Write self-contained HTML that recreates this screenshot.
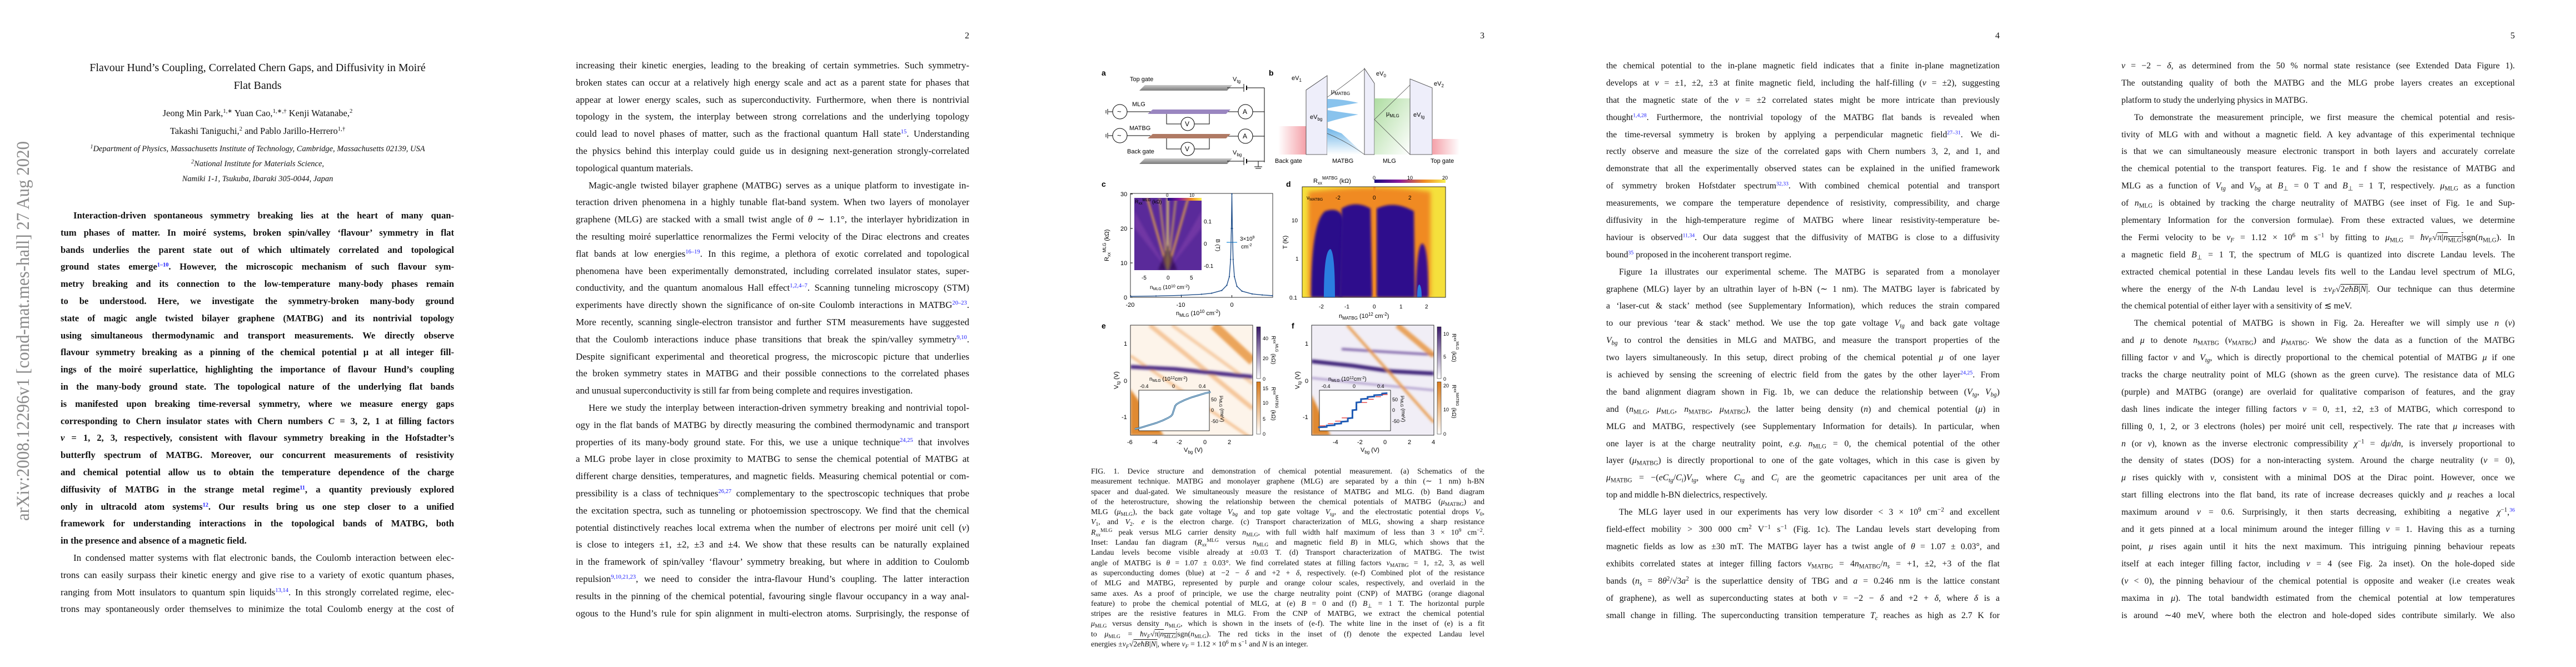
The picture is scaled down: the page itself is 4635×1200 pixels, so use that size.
<!DOCTYPE html>
<html><head><meta charset="utf-8">
<style>
html,body{margin:0;padding:0;background:#fff}
body{width:4635px;height:1200px;position:relative;overflow:hidden;font-family:"Liberation Serif",serif;color:#111}
.page{position:absolute;top:0;width:927px;height:1200px;background:#fff}
.col{position:absolute;left:109px;width:708px}
.l{height:30.8px;line-height:30.8px;overflow:hidden;text-align:justify;text-align-last:justify}
.e{text-align-last:left}
.i{text-indent:23px}
.p2 .col{font-size:17px}
.p45 .col{font-size:15.8px}
.p45 .l{height:30.9px;line-height:30.9px}
.abs{font-weight:bold;font-size:16.6px}
.nrm{font-size:17px}
sup{font-size:0.62em;vertical-align:0.55em;line-height:0;color:#1a1aff}
sub{font-size:0.7em;vertical-align:-0.3em;line-height:0}
.pn{position:absolute;right:110px;top:56px;font-size:16px}
.ctr{position:absolute;left:0;width:927px;text-align:center}
.cap{position:absolute;left:109px;top:839px;width:708px;font-size:13.8px}
.cap .l{height:18.3px;line-height:18.3px}
svg text{font-family:"Liberation Sans",sans-serif}
</style></head><body>

<!-- PAGE 1 -->
<div class="page" style="left:0">
<svg width="80" height="1200" style="position:absolute;left:0;top:0">
<text transform="translate(52,937) rotate(-90)" font-family="Liberation Serif" font-size="33" fill="#8a8a8a" textLength="683" lengthAdjust="spacingAndGlyphs" style="font-family:'Liberation Serif',serif">arXiv:2008.12296v1  [cond-mat.mes-hall]  27 Aug 2020</text>
</svg>
<div class="ctr" style="top:106px;font-size:20px;line-height:32px">Flavour Hund’s Coupling, Correlated Chern Gaps, and Diffusivity in Moiré<br>Flat Bands</div>
<div class="ctr" style="top:188px;font-size:16.5px;line-height:32px">Jeong Min Park,<span style="font-size:.65em;vertical-align:.55em;line-height:0">1,∗</span> Yuan Cao,<span style="font-size:.65em;vertical-align:.55em;line-height:0">1,∗,†</span> Kenji Watanabe,<span style="font-size:.65em;vertical-align:.55em;line-height:0">2</span><br>Takashi Taniguchi,<span style="font-size:.65em;vertical-align:.55em;line-height:0">2</span> and Pablo Jarillo-Herrero<span style="font-size:.65em;vertical-align:.55em;line-height:0">1,†</span></div>
<div class="ctr" style="top:255px;font-size:14.5px;line-height:27px;font-style:italic"><span style="font-size:.7em;vertical-align:.5em;line-height:0">1</span>Department of Physics, Massachusetts Institute of Technology, Cambridge, Massachusetts 02139, USA<br><span style="font-size:.7em;vertical-align:.5em;line-height:0">2</span>National Institute for Materials Science,<br>Namiki 1-1, Tsukuba, Ibaraki 305-0044, Japan</div>
<div class="col" style="top:373px">
<div class="abs">
<div class="l i">Interaction-driven spontaneous symmetry breaking lies at the heart of many quan-</div>
<div class="l">tum phases of matter. In moiré systems, broken spin/valley ‘flavour’ symmetry in flat</div>
<div class="l">bands underlies the parent state out of which ultimately correlated and topological</div>
<div class="l">ground states emerge<sup>1–10</sup>. However, the microscopic mechanism of such flavour sym-</div>
<div class="l">metry breaking and its connection to the low-temperature many-body phases remain</div>
<div class="l">to be understood. Here, we investigate the symmetry-broken many-body ground</div>
<div class="l">state of magic angle twisted bilayer graphene (MATBG) and its nontrivial topology</div>
<div class="l">using simultaneous thermodynamic and transport measurements. We directly observe</div>
<div class="l">flavour symmetry breaking as a pinning of the chemical potential μ at all integer fill-</div>
<div class="l">ings of the moiré superlattice, highlighting the importance of flavour Hund’s coupling</div>
<div class="l">in the many-body ground state. The topological nature of the underlying flat bands</div>
<div class="l">is manifested upon breaking time-reversal symmetry, where we measure energy gaps</div>
<div class="l">corresponding to Chern insulator states with Chern numbers <i>C</i> = 3, 2, 1 at filling factors</div>
<div class="l"><i>ν</i> = 1, 2, 3, respectively, consistent with flavour symmetry breaking in the Hofstadter’s</div>
<div class="l">butterfly spectrum of MATBG. Moreover, our concurrent measurements of resistivity</div>
<div class="l">and chemical potential allow us to obtain the temperature dependence of the charge</div>
<div class="l">diffusivity of MATBG in the strange metal regime<sup>11</sup>, a quantity previously explored</div>
<div class="l">only in ultracold atom systems<sup>12</sup>. Our results bring us one step closer to a unified</div>
<div class="l">framework for understanding interactions in the topological bands of MATBG, both</div>
<div class="l e">in the presence and absence of a magnetic field.</div>
</div>
<div class="nrm">
<div class="l i">In condensed matter systems with flat electronic bands, the Coulomb interaction between elec-</div>
<div class="l">trons can easily surpass their kinetic energy and give rise to a variety of exotic quantum phases,</div>
<div class="l">ranging from Mott insulators to quantum spin liquids<sup>13,14</sup>. In this strongly correlated regime, elec-</div>
<div class="l">trons may spontaneously order themselves to minimize the total Coulomb energy at the cost of</div>
</div>
</div>
</div>

<!-- PAGE 2 -->
<div class="page p2" style="left:927px">
<div class="pn">2</div>
<div class="col" style="top:103px">
<div class="l">increasing their kinetic energies, leading to the breaking of certain symmetries. Such symmetry-</div>
<div class="l">broken states can occur at a relatively high energy scale and act as a parent state for phases that</div>
<div class="l">appear at lower energy scales, such as superconductivity. Furthermore, when there is nontrivial</div>
<div class="l">topology in the system, the interplay between strong correlations and the underlying topology</div>
<div class="l">could lead to novel phases of matter, such as the fractional quantum Hall state<sup>15</sup>. Understanding</div>
<div class="l">the physics behind this interplay could guide us in designing next-generation strongly-correlated</div>
<div class="l e">topological quantum materials.</div>
<div class="l i">Magic-angle twisted bilayer graphene (MATBG) serves as a unique platform to investigate in-</div>
<div class="l">teraction driven phenomena in a highly tunable flat-band system. When two layers of monolayer</div>
<div class="l">graphene (MLG) are stacked with a small twist angle of <i>θ</i> ∼ 1.1°, the interlayer hybridization in</div>
<div class="l">the resulting moiré superlattice renormalizes the Fermi velocity of the Dirac electrons and creates</div>
<div class="l">flat bands at low energies<sup>16–19</sup>. In this regime, a plethora of exotic correlated and topological</div>
<div class="l">phenomena have been experimentally demonstrated, including correlated insulator states, super-</div>
<div class="l">conductivity, and the quantum anomalous Hall effect<sup>1,2,4–7</sup>. Scanning tunneling microscopy (STM)</div>
<div class="l">experiments have directly shown the significance of on-site Coulomb interactions in MATBG<sup>20–23</sup>.</div>
<div class="l">More recently, scanning single-electron transistor and further STM measurements have suggested</div>
<div class="l">that the Coulomb interactions induce phase transitions that break the spin/valley symmetry<sup>9,10</sup>.</div>
<div class="l">Despite significant experimental and theoretical progress, the microscopic picture that underlies</div>
<div class="l">the broken symmetry states in MATBG and their possible connections to the correlated phases</div>
<div class="l e">and unusual superconductivity is still far from being complete and requires investigation.</div>
<div class="l i">Here we study the interplay between interaction-driven symmetry breaking and nontrivial topol-</div>
<div class="l">ogy in the flat bands of MATBG by directly measuring the combined thermodynamic and transport</div>
<div class="l">properties of its many-body ground state. For this, we use a unique technique<sup>24,25</sup> that involves</div>
<div class="l">a MLG probe layer in close proximity to MATBG to sense the chemical potential of MATBG at</div>
<div class="l">different charge densities, temperatures, and magnetic fields. Measuring chemical potential or com-</div>
<div class="l">pressibility is a class of techniques<sup>26,27</sup> complementary to the spectroscopic techniques that probe</div>
<div class="l">the excitation spectra, such as tunneling or photoemission spectroscopy. We find that the chemical</div>
<div class="l">potential distinctively reaches local extrema when the number of electrons per moiré unit cell (<i>ν</i>)</div>
<div class="l">is close to integers ±1, ±2, ±3 and ±4. We show that these results can be naturally explained</div>
<div class="l">in the framework of spin/valley ‘flavour’ symmetry breaking, but where in addition to Coulomb</div>
<div class="l">repulsion<sup>9,10,21,23</sup>, we need to consider the intra-flavour Hund’s coupling. The latter interaction</div>
<div class="l">results in the pinning of the chemical potential, favouring single flavour occupancy in a way anal-</div>
<div class="l">ogous to the Hund’s rule for spin alignment in multi-electron atoms. Surprisingly, the response of</div>
</div>
</div>

<!-- PAGE 3 -->
<div class="page" style="left:1854px">
<div class="pn">3</div>
<svg id="fig" width="927" height="830" style="position:absolute;left:0;top:0">
<defs>
<linearGradient id="gplate" x1="0" y1="0" x2="0" y2="1"><stop offset="0" stop-color="#c8c8c8"/><stop offset="1" stop-color="#7a7a7a"/></linearGradient>
<linearGradient id="gpink" x1="0" y1="0" x2="1" y2="0"><stop offset="0" stop-color="#fff"/><stop offset="1" stop-color="#f4a0a8"/></linearGradient>
<linearGradient id="gpink2" x1="0" y1="0" x2="1" y2="0"><stop offset="0" stop-color="#f4a0a8"/><stop offset="1" stop-color="#fff"/></linearGradient>
<linearGradient id="gblue" x1="0" y1="0" x2="0" y2="1"><stop offset="0" stop-color="#6cb4e8"/><stop offset="1" stop-color="#fff"/></linearGradient>
<linearGradient id="ggreen" x1="0" y1="0" x2="1" y2="1"><stop offset="0" stop-color="#9ad48a"/><stop offset="1" stop-color="#fff"/></linearGradient>
<linearGradient id="gcbar1" x1="0" y1="0" x2="1" y2="0"><stop offset="0" stop-color="#1a0a80"/><stop offset="0.35" stop-color="#8a1a9a"/><stop offset="0.7" stop-color="#f08a24"/><stop offset="1" stop-color="#f8f050"/></linearGradient>
<linearGradient id="gcpur" x1="0" y1="0" x2="0" y2="1"><stop offset="0" stop-color="#3a1a6a"/><stop offset="1" stop-color="#fff"/></linearGradient>
<linearGradient id="gcora" x1="0" y1="0" x2="0" y2="1"><stop offset="0" stop-color="#d87a1a"/><stop offset="1" stop-color="#fff"/></linearGradient>
<filter id="bl2"><feGaussianBlur stdDeviation="2"/></filter>
<filter id="bl4"><feGaussianBlur stdDeviation="4"/></filter>
<clipPath id="clipD"><rect x="489" y="336" width="258" height="199"/></clipPath>
<clipPath id="clipE"><rect x="180" y="585" width="220" height="198"/></clipPath>
<clipPath id="clipF"><rect x="506" y="585" width="220" height="198"/></clipPath>
<clipPath id="clipCi"><rect x="187" y="356" width="121" height="130"/></clipPath>
</defs>
<!-- panel a -->
<g font-size="11">
<text x="128" y="136" font-weight="bold" font-size="14">a</text>
<text x="179" y="146">Top gate</text>
<polygon points="196,163 206,153 363,153 354,163" fill="url(#gplate)"/>
<text x="364" y="146">V<tspan font-size="8" dy="3">tg</tspan></text>
<line x1="354" y1="158" x2="384" y2="158" stroke="#000"/><line x1="384" y1="151" x2="384" y2="165" stroke="#000"/><line x1="389" y1="154" x2="389" y2="162" stroke="#000" stroke-width="2"/><line x1="389" y1="158" x2="421" y2="158" stroke="#000"/>
<line x1="421" y1="158" x2="421" y2="292" stroke="#000"/>
<text x="183" y="191">MLG</text>
<polygon points="211,205 220,197 360,197 352,205" fill="#9a86c0"/>
<circle cx="161" cy="201" r="13" fill="#fff" stroke="#000"/><text x="156" y="205" font-size="13">~</text>
<line x1="174" y1="201" x2="216" y2="201" stroke="#000"/><line x1="140" y1="201" x2="148" y2="201" stroke="#000"/><line x1="139" y1="196" x2="139" y2="206" stroke="#000"/><line x1="136" y1="198" x2="136" y2="204" stroke="#000"/>
<polyline points="245,205 245,223 271,223" fill="none" stroke="#000"/><polyline points="322,205 322,223 295,223" fill="none" stroke="#000"/>
<circle cx="283" cy="223" r="12" fill="#fff" stroke="#000"/><text x="278" y="227" font-size="12">V</text>
<line x1="356" y1="201" x2="374" y2="201" stroke="#000"/>
<circle cx="387" cy="201" r="13" fill="#fff" stroke="#000"/><text x="382" y="205" font-size="12">A</text>
<line x1="400" y1="201" x2="421" y2="201" stroke="#000"/>
<text x="178" y="234">MATBG</text>
<polygon points="211,249 220,241 360,241 352,249" fill="#b07a64"/>
<circle cx="161" cy="244" r="13" fill="#fff" stroke="#000"/><text x="156" y="248" font-size="13">~</text>
<line x1="174" y1="244" x2="216" y2="244" stroke="#000"/><line x1="140" y1="244" x2="148" y2="244" stroke="#000"/><line x1="139" y1="239" x2="139" y2="249" stroke="#000"/><line x1="136" y1="241" x2="136" y2="247" stroke="#000"/>
<polyline points="245,249 245,268 271,268" fill="none" stroke="#000"/><polyline points="322,249 322,268 295,268" fill="none" stroke="#000"/>
<circle cx="283" cy="268" r="12" fill="#fff" stroke="#000"/><text x="278" y="272" font-size="12">V</text>
<line x1="356" y1="245" x2="374" y2="245" stroke="#000"/>
<circle cx="387" cy="245" r="13" fill="#fff" stroke="#000"/><text x="382" y="249" font-size="12">A</text>
<line x1="400" y1="245" x2="421" y2="245" stroke="#000"/>
<text x="174" y="276">Back gate</text>
<polygon points="196,295 206,285 363,285 354,295" fill="url(#gplate)"/>
<text x="364" y="278">V<tspan font-size="8" dy="3">bg</tspan></text>
<line x1="354" y1="290" x2="384" y2="290" stroke="#000"/><line x1="384" y1="283" x2="384" y2="297" stroke="#000"/><line x1="389" y1="286" x2="389" y2="294" stroke="#000" stroke-width="2"/><line x1="389" y1="290" x2="421" y2="290" stroke="#000"/>
<line x1="410" y1="290" x2="410" y2="300" stroke="#000"/><line x1="403" y1="300" x2="417" y2="300" stroke="#000"/><line x1="405" y1="303" x2="415" y2="303" stroke="#000"/>
</g>
<!-- panel b -->
<g font-size="11">
<text x="429" y="136" font-weight="bold" font-size="14">b</text>
<rect x="446" y="227" width="50" height="51" fill="url(#gpink)"/>
<polygon points="496,162 534,136 534,278 496,278" fill="#eeeefa" stroke="#333" stroke-width="0.8"/>
<polygon points="534,278 534,230 560,240 601,278" fill="url(#gblue)"/>
<path d="M534,175 Q570,150 601,124" fill="none" stroke="#444" stroke-width="0.7"/>
<path d="M534,240 Q570,255 601,278" fill="none" stroke="#444" stroke-width="0.7"/>
<path d="M534,178 Q560,178 590,185 Q560,190 534,195 Z" fill="#6cb4e8" opacity="0.8"/>
<path d="M534,198 Q560,202 590,206 Q560,212 534,220 Z" fill="#6cb4e8" opacity="0.8"/>
<polygon points="601,123 619,150 619,278 601,278" fill="#eeeefa" stroke="#333" stroke-width="0.8"/>
<polygon points="619,177 683,177 683,278 619,278" fill="url(#ggreen)" opacity="0.8"/>
<polyline points="683,153 619,215 683,278" fill="none" stroke="#444" stroke-width="0.7"/>
<polygon points="683,142 723,158 723,278 683,278" fill="#eeeefa" stroke="#333" stroke-width="0.8"/>
<rect x="723" y="250" width="49" height="28" fill="url(#gpink2)"/>
<text x="470" y="144">eV<tspan font-size="8" dy="3">1</tspan></text>
<text x="622" y="136">eV<tspan font-size="8" dy="3">0</tspan></text>
<text x="726" y="154">eV<tspan font-size="8" dy="3">2</tspan></text>
<text x="541" y="168">μ<tspan font-size="8" dy="3">MATBG</tspan></text>
<text x="503" y="214">eV<tspan font-size="8" dy="3">bg</tspan></text>
<text x="640" y="208">μ<tspan font-size="8" dy="3">MLG</tspan></text>
<text x="689" y="210">eV<tspan font-size="8" dy="3">tg</tspan></text>
<text x="440" y="293">Back gate</text><text x="543" y="293">MATBG</text><text x="634" y="293">MLG</text><text x="720" y="293">Top gate</text>
</g>
<!-- panel c -->
<g id="panelC" font-size="11">
<text x="128" y="336" font-weight="bold" font-size="14">c</text>
<rect x="180" y="348" width="256" height="187" fill="none" stroke="#000" stroke-width="0.8"/>
<text transform="translate(141,470) rotate(-90)">R<tspan font-size="8" dy="3">xx</tspan><tspan font-size="8" dy="-8">MLG</tspan><tspan dy="5"> (kΩ)</tspan></text>
<text x="262" y="567">n<tspan font-size="8" dy="3">MLG</tspan><tspan dy="-3"> (10</tspan><tspan font-size="8" dy="-4">10</tspan><tspan dy="4"> cm</tspan><tspan font-size="8" dy="-4">-2</tspan><tspan dy="4">)</tspan></text>
<rect x="187" y="356" width="121" height="130" fill="#5a2a9a"/>
<g clip-path="url(#clipCi)" filter="url(#bl2)">
<polygon points="247,486 187,380 187,410 247,486 308,410 308,380" fill="#7a3aa8" opacity="0.7"/>
<line x1="247" y1="486" x2="210" y2="356" stroke="#f0b040" stroke-width="3"/>
<line x1="247" y1="486" x2="284" y2="356" stroke="#f0b040" stroke-width="3"/>
<line x1="247" y1="486" x2="232" y2="356" stroke="#f8d040" stroke-width="2"/>
<line x1="247" y1="486" x2="262" y2="356" stroke="#f8d040" stroke-width="2"/>
<line x1="247" y1="356" x2="247" y2="486" stroke="#fff060" stroke-width="3"/>
<polygon points="247,440 230,486 264,486" fill="#2a0a40" opacity="0.6"/>
</g>
<rect x="247" y="356" width="61" height="5" fill="url(#gcbar1)"/>
<text x="188" y="366" font-size="9">R<tspan font-size="7" dy="2">xx</tspan><tspan font-size="7" dy="-6">MLG</tspan><tspan dy="4"> (kΩ)</tspan></text>
<text x="244" y="354" font-size="8">0</text><text x="286" y="354" font-size="8">10</text>
<text x="312" y="402" font-size="10">0.1</text><text x="312" y="442" font-size="10">0</text><text x="312" y="482" font-size="10">-0.1</text>
<text transform="translate(334,430) rotate(90)" font-size="10">B (T)</text>
<text x="200" y="503" font-size="10">-5</text><text x="245" y="503" font-size="10">0</text><text x="287" y="503" font-size="10">5</text>
<text x="215" y="520" font-size="10">n<tspan font-size="7" dy="2">MLG</tspan><tspan dy="-2"> (10</tspan><tspan font-size="7" dy="-3">10</tspan><tspan dy="3"> cm</tspan><tspan font-size="7" dy="-3">-2</tspan><tspan dy="3">)</tspan></text>
<line x1="353" y1="436" x2="372" y2="436" stroke="#1e8ad8" stroke-width="1.2"/>
<text x="377" y="433" font-size="10">3×10<tspan font-size="7" dy="-4">9</tspan></text>
<text x="379" y="447" font-size="10">cm<tspan font-size="7" dy="-4">-2</tspan></text>
</g>
<!-- panel d -->
<g font-size="11">
<text x="460" y="336" font-weight="bold" font-size="14">d</text>
<g clip-path="url(#clipD)">
<rect x="489" y="336" width="258" height="199" fill="#f5e03c"/>
<path d="M500,535 L500,345 Q620,330 720,345 L720,535 Z" fill="#f08a24" filter="url(#bl4)"/>
<path d="M505,535 Q505,400 530,380 Q560,370 565,400 L560,535 Z" fill="#2b0b8a" filter="url(#bl2)"/>
<path d="M556,535 L560,375 Q585,360 612,375 L615,535 Z" fill="#2e0c8c" filter="url(#bl2)"/>
<path d="M623,535 L623,375 Q655,360 690,380 L692,535 Z" fill="#2e0c8c" filter="url(#bl2)"/>
<path d="M693,535 Q695,440 705,438 Q716,440 716,535 Z" fill="#3a0e90" filter="url(#bl2)"/>
<path d="M528,535 Q528,450 540,448 Q548,455 548,535 Z" fill="#2a7ee0"/>
<path d="M696,535 Q696,512 700,512 Q704,515 704,535 Z" fill="#2a7ee0"/>
<rect x="617" y="336" width="4" height="199" fill="#f08a24"/>
</g>
<rect x="489" y="336" width="258" height="199" fill="none" stroke="#000" stroke-width="0.8"/>
<rect x="619" y="323" width="128" height="6" fill="url(#gcbar1)"/>
<text x="509" y="329">R<tspan font-size="8" dy="3">xx</tspan><tspan font-size="8" dy="-9">MATBG</tspan><tspan dy="6"> (kΩ)</tspan></text>
<text x="616" y="323" font-size="9">0</text><text x="678" y="323" font-size="9">10</text><text x="741" y="323" font-size="9">20</text>
<text x="497" y="359" font-size="10">ν<tspan font-size="7" dy="2">MATBG</tspan></text>
<text x="549" y="359" font-size="10">-2</text><text x="616" y="359" font-size="10">0</text><text x="680" y="359" font-size="10">2</text>
<text x="470" y="400" font-size="10">10</text><text x="477" y="469" font-size="10">1</text><text x="466" y="539" font-size="10">0.1</text>
<text transform="translate(462,448) rotate(-90)">T (K)</text>
<text x="519" y="555" font-size="10">-2</text><text x="565" y="555" font-size="10">-1</text><text x="616" y="555" font-size="10">0</text><text x="664" y="555" font-size="10">1</text><text x="710" y="555" font-size="10">2</text>
<text x="555" y="572">n<tspan font-size="8" dy="3">MATBG</tspan><tspan dy="-3"> (10</tspan><tspan font-size="8" dy="-4">12</tspan><tspan dy="4"> cm</tspan><tspan font-size="8" dy="-4">-2</tspan><tspan dy="4">)</tspan></text>
</g>
<!-- panel e -->
<g id="panelE" font-size="11">
<text x="128" y="591" font-weight="bold" font-size="14">e</text>
<g clip-path="url(#clipE)">
<rect x="180" y="585" width="220" height="198" fill="#fdf4ea"/>
<g filter="url(#bl2)">
<line x1="215" y1="585" x2="400" y2="735" stroke="#f2b47a" stroke-width="8" opacity="0.7"/>
<line x1="255" y1="585" x2="400" y2="690" stroke="#f2b47a" stroke-width="6" opacity="0.6"/>
<line x1="330" y1="585" x2="400" y2="650" stroke="#e8913a" stroke-width="16" opacity="0.8"/>
<line x1="180" y1="640" x2="400" y2="790" stroke="#f0a660" stroke-width="5" opacity="0.6"/>
<polygon points="180,700 180,783 240,783" fill="#e08a30"/>
<polyline points="180,660 260,664 320,670 400,678" fill="none" stroke="#4b2a84" stroke-width="7"/>
</g>
</g>
<rect x="180" y="585" width="220" height="198" fill="none" stroke="#000" stroke-width="0.8"/>
<rect x="195" y="702" width="127" height="73" fill="#fff" stroke="#000" stroke-width="0.8"/>
<rect x="407" y="588" width="7" height="93" fill="url(#gcpur)" stroke="#000" stroke-width="0.5"/>
<rect x="407" y="687" width="7" height="94" fill="url(#gcora)" stroke="#000" stroke-width="0.5"/>
<text x="418" y="612" font-size="9">40</text><text x="418" y="648" font-size="9">20</text><text x="418" y="685" font-size="9">0</text>
<text x="418" y="702" font-size="9">15</text><text x="418" y="728" font-size="9">10</text><text x="418" y="757" font-size="9">5</text><text x="418" y="784" font-size="9">0</text>
<text transform="translate(434,604) rotate(90)" font-size="10">R<tspan font-size="7" dy="-3">xx</tspan><tspan font-size="7" dy="-4">MLG</tspan><tspan dy="7"> (kΩ)</tspan></text>
<text transform="translate(434,696) rotate(90)" font-size="10">R<tspan font-size="7" dy="-3">xx</tspan><tspan font-size="7" dy="-4">MATBG</tspan><tspan dy="7"> (kΩ)</tspan></text>
<text x="168" y="622">1</text><text x="168" y="689">0</text><text x="164" y="754">-1</text>
<text transform="translate(158,700) rotate(-90)">V<tspan font-size="8" dy="3">tg</tspan><tspan dy="-3"> (V)</tspan></text>
<text x="174" y="799">-6</text><text x="219" y="799">-4</text><text x="263" y="799">-2</text><text x="311" y="799">0</text><text x="355" y="799">2</text>
<text x="276" y="813">V<tspan font-size="8" dy="3">bg</tspan><tspan dy="-3"> (V)</tspan></text>
<text x="214" y="685" font-size="10">n<tspan font-size="7" dy="2">MLG</tspan><tspan dy="-2"> (10</tspan><tspan font-size="7" dy="-3">12</tspan><tspan dy="3">cm</tspan><tspan font-size="7" dy="-3">-2</tspan><tspan dy="3">)</tspan></text>
<text x="197" y="698" font-size="9">-0.4</text><text x="255" y="698" font-size="9">0</text><text x="303" y="698" font-size="9">0.4</text>
<text x="325" y="722" font-size="9">50</text><text x="325" y="741" font-size="9">0</text><text x="325" y="761" font-size="9">-50</text>
<text transform="translate(342,712) rotate(90)" font-size="9">μ<tspan font-size="7" dy="2">MLG</tspan><tspan dy="-2"> (meV)</tspan></text>
</g>
<!-- panel f -->
<g id="panelF" font-size="11">
<text x="470" y="591" font-weight="bold" font-size="14">f</text>
<g clip-path="url(#clipF)">
<rect x="506" y="585" width="220" height="198" fill="#f1eef6"/>
<g filter="url(#bl2)">
<polyline points="506,650 580,658 650,668 726,672" fill="none" stroke="#3e2278" stroke-width="7"/>
<polyline points="560,628 640,633 726,638" fill="none" stroke="#5a3a90" stroke-width="4" opacity="0.8"/>
<polyline points="506,680 600,690 726,702" fill="none" stroke="#6a4aa0" stroke-width="3" opacity="0.6"/>
<line x1="570" y1="585" x2="726" y2="760" stroke="#e8913a" stroke-width="5" opacity="0.8"/>
<line x1="660" y1="585" x2="726" y2="640" stroke="#e8913a" stroke-width="10" opacity="0.8"/>
<polygon points="506,710 506,783 540,783" fill="#e08a30"/>
</g>
</g>
<rect x="506" y="585" width="220" height="198" fill="none" stroke="#000" stroke-width="0.8"/>
<rect x="520" y="702" width="128" height="73" fill="#fff" stroke="#000" stroke-width="0.8"/>
<rect x="732" y="588" width="7" height="93" fill="url(#gcpur)" stroke="#000" stroke-width="0.5"/>
<rect x="732" y="687" width="7" height="94" fill="url(#gcora)" stroke="#000" stroke-width="0.5"/>
<text x="743" y="604" font-size="9">10</text><text x="743" y="645" font-size="9">5</text><text x="743" y="685" font-size="9">0</text>
<text x="743" y="697" font-size="9">20</text><text x="743" y="740" font-size="9">10</text><text x="743" y="784" font-size="9">0</text>
<text transform="translate(759,600) rotate(90)" font-size="10">R<tspan font-size="7" dy="-3">xx</tspan><tspan font-size="7" dy="-4">MLG</tspan><tspan dy="7"> (kΩ)</tspan></text>
<text transform="translate(759,692) rotate(90)" font-size="10">R<tspan font-size="7" dy="-3">xx</tspan><tspan font-size="7" dy="-4">MATBG</tspan><tspan dy="7"> (kΩ)</tspan></text>
<text x="494" y="622">1</text><text x="494" y="689">0</text><text x="490" y="754">-1</text>
<text transform="translate(484,700) rotate(-90)">V<tspan font-size="8" dy="3">tg</tspan><tspan dy="-3"> (V)</tspan></text>
<text x="544" y="799">-4</text><text x="588" y="799">-2</text><text x="635" y="799">0</text><text x="679" y="799">2</text><text x="722" y="799">4</text>
<text x="594" y="813">V<tspan font-size="8" dy="3">bg</tspan><tspan dy="-3"> (V)</tspan></text>
<text x="536" y="685" font-size="10">n<tspan font-size="7" dy="2">MLG</tspan><tspan dy="-2"> (10</tspan><tspan font-size="7" dy="-3">12</tspan><tspan dy="3">cm</tspan><tspan font-size="7" dy="-3">-2</tspan><tspan dy="3">)</tspan></text>
<text x="524" y="698" font-size="9">-0.4</text><text x="580" y="698" font-size="9">0</text><text x="624" y="698" font-size="9">0.4</text>
<text x="651" y="722" font-size="9">50</text><text x="651" y="741" font-size="9">0</text><text x="651" y="761" font-size="9">-50</text>
<text transform="translate(668,712) rotate(90)" font-size="9">μ<tspan font-size="7" dy="2">MLG</tspan><tspan dy="-2"> (meV)</tspan></text>
</g>
</svg>
<div class="cap">
<div class="l">FIG. 1. Device structure and demonstration of chemical potential measurement. (a) Schematics of the</div>
<div class="l">measurement technique. MATBG and monolayer graphene (MLG) are separated by a thin (∼ 1 nm) h-BN</div>
<div class="l">spacer and dual-gated. We simultaneously measure the resistance of MATBG and MLG. (b) Band diagram</div>
<div class="l">of the heterostructure, showing the relationship between the chemical potentials of MATBG (<i>μ</i><sub>MATBG</sub>) and</div>
<div class="l">MLG (<i>μ</i><sub>MLG</sub>), the back gate voltage <i>V<sub>bg</sub></i> and top gate voltage <i>V<sub>tg</sub></i>, and the electrostatic potential drops <i>V</i><sub>0</sub>,</div>
<div class="l"><i>V</i><sub>1</sub>, and <i>V</i><sub>2</sub>. <i>e</i> is the electron charge. (c) Transport characterization of MLG, showing a sharp resistance</div>
<div class="l"><i>R<sub>xx</sub></i><span style="font-size:.7em;vertical-align:.5em;line-height:0">MLG</span> peak versus MLG carrier density <i>n</i><sub>MLG</sub>, with full width half maximum of less than 3 × 10<span style="font-size:.7em;vertical-align:.5em;line-height:0">9</span> cm<span style="font-size:.7em;vertical-align:.5em;line-height:0">−2</span>.</div>
<div class="l">Inset: Landau fan diagram (<i>R<sub>xx</sub></i><span style="font-size:.7em;vertical-align:.5em;line-height:0">MLG</span> versus <i>n</i><sub>MLG</sub> and magnetic field <i>B</i>) in MLG, which shows that the</div>
<div class="l">Landau levels become visible already at ±0.03 T. (d) Transport characterization of MATBG. The twist</div>
<div class="l">angle of MATBG is <i>θ</i> = 1.07 ± 0.03°. We find correlated states at filling factors <i>ν</i><sub>MATBG</sub> = 1, ±2, 3, as well</div>
<div class="l">as superconducting domes (blue) at −2 − <i>δ</i> and +2 + <i>δ</i>, respectively. (e-f) Combined plot of the resistance</div>
<div class="l">of MLG and MATBG, represented by purple and orange colour scales, respectively, and overlaid in the</div>
<div class="l">same axes. As a proof of principle, we use the charge neutrality point (CNP) of MATBG (orange diagonal</div>
<div class="l">feature) to probe the chemical potential of MLG, at (e) <i>B</i> = 0 and (f) <i>B</i><sub>⊥</sub> = 1 T. The horizontal purple</div>
<div class="l">stripes are the resistive features in MLG. From the CNP of MATBG, we extract the chemical potential</div>
<div class="l"><i>μ</i><sub>MLG</sub> versus density <i>n</i><sub>MLG</sub>, which is shown in the insets of (e-f). The white line in the inset of (e) is a fit</div>
<div class="l">to <i>μ</i><sub>MLG</sub> = <i>ħv<sub>F</sub></i>√<span style="text-decoration:overline">π|<i>n</i><sub>MLG</sub>|</span>sgn(<i>n</i><sub>MLG</sub>). The red ticks in the inset of (f) denote the expected Landau level</div>
<div class="l e">energies ±<i>v<sub>F</sub></i>√<span style="text-decoration:overline">2<i>eħB</i>|<i>N</i>|</span>, where <i>v<sub>F</sub></i> = 1.12 × 10<span style="font-size:.7em;vertical-align:.5em;line-height:0">6</span> m s<span style="font-size:.7em;vertical-align:.5em;line-height:0">−1</span> and <i>N</i> is an integer.</div>
</div>
</div>

<!-- PAGE 4 -->
<div class="page p45" style="left:2781px">
<div class="pn">4</div>
<div class="col" style="top:104px">
<div class="l">the chemical potential to the in-plane magnetic field indicates that a finite in-plane magnetization</div>
<div class="l">develops at <i>ν</i> = ±1, ±2, ±3 at finite magnetic field, including the half-filling (<i>ν</i> = ±2), suggesting</div>
<div class="l">that the magnetic state of the <i>ν</i> = ±2 correlated states might be more intricate than previously</div>
<div class="l">thought<sup>1,4,28</sup>. Furthermore, the nontrivial topology of the MATBG flat bands is revealed when</div>
<div class="l">the time-reversal symmetry is broken by applying a perpendicular magnetic field<sup>27–31</sup>. We di-</div>
<div class="l">rectly observe and measure the size of the correlated gaps with Chern numbers 3, 2, and 1, and</div>
<div class="l">demonstrate that all the experimentally observed states can be explained in the unified framework</div>
<div class="l">of symmetry broken Hofstdater spectrum<sup>32,33</sup>. With combined chemical potential and transport</div>
<div class="l">measurements, we compare the temperature dependence of resistivity, compressibility, and charge</div>
<div class="l">diffusivity in the high-temperature regime of MATBG where linear resistivity-temperature be-</div>
<div class="l">haviour is observed<sup>11,34</sup>. Our data suggest that the diffusivity of MATBG is close to a diffusivity</div>
<div class="l e">bound<sup>35</sup> proposed in the incoherent transport regime.</div>
<div class="l i">Figure 1a illustrates our experimental scheme. The MATBG is separated from a monolayer</div>
<div class="l">graphene (MLG) layer by an ultrathin layer of h-BN (∼ 1 nm). The MATBG layer is fabricated by</div>
<div class="l">a ‘laser-cut &amp; stack’ method (see Supplementary Information), which reduces the strain compared</div>
<div class="l">to our previous ‘tear &amp; stack’ method. We use the top gate voltage <i>V<sub>tg</sub></i> and back gate voltage</div>
<div class="l"><i>V<sub>bg</sub></i> to control the densities in MLG and MATBG, and measure the transport properties of the</div>
<div class="l">two layers simultaneously. In this setup, direct probing of the chemical potential <i>μ</i> of one layer</div>
<div class="l">is achieved by sensing the screening of electric field from the gates by the other layer<sup>24,25</sup>. From</div>
<div class="l">the band alignment diagram shown in Fig. 1b, we can deduce the relationship between (<i>V<sub>tg</sub></i>, <i>V<sub>bg</sub></i>)</div>
<div class="l">and (<i>n</i><sub>MLG</sub>, <i>μ</i><sub>MLG</sub>, <i>n</i><sub>MATBG</sub>, <i>μ</i><sub>MATBG</sub>), the latter being density (<i>n</i>) and chemical potential (<i>μ</i>) in</div>
<div class="l">MLG and MATBG, respectively (see Supplementary Information for details). In particular, when</div>
<div class="l">one layer is at the charge neutrality point, <i>e.g.</i> <i>n</i><sub>MLG</sub> = 0, the chemical potential of the other</div>
<div class="l">layer (<i>μ</i><sub>MATBG</sub>) is directly proportional to one of the gate voltages, which in this case is given by</div>
<div class="l"><i>μ</i><sub>MATBG</sub> = −(<i>eC<sub>tg</sub></i>/<i>C<sub>i</sub></i>)<i>V<sub>tg</sub></i>, where <i>C<sub>tg</sub></i> and <i>C<sub>i</sub></i> are the geometric capacitances per unit area of the</div>
<div class="l e">top and middle h-BN dielectrics, respectively.</div>
<div class="l i">The MLG layer used in our experiments has very low disorder &lt; 3 × 10<span style="font-size:.7em;vertical-align:.5em;line-height:0">9</span> cm<span style="font-size:.7em;vertical-align:.5em;line-height:0">−2</span> and excellent</div>
<div class="l">field-effect mobility &gt; 300 000 cm<span style="font-size:.7em;vertical-align:.5em;line-height:0">2</span> V<span style="font-size:.7em;vertical-align:.5em;line-height:0">−1</span> s<span style="font-size:.7em;vertical-align:.5em;line-height:0">−1</span> (Fig. 1c). The Landau levels start developing from</div>
<div class="l">magnetic fields as low as ±30 mT. The MATBG layer has a twist angle of <i>θ</i> = 1.07 ± 0.03°, and</div>
<div class="l">exhibits correlated states at integer filling factors <i>ν</i><sub>MATBG</sub> = 4<i>n</i><sub>MATBG</sub>/<i>n<sub>s</sub></i> = +1, ±2, +3 of the flat</div>
<div class="l">bands (<i>n<sub>s</sub></i> = 8<i>θ</i><span style="font-size:.7em;vertical-align:.5em;line-height:0">2</span>/√3<i>a</i><span style="font-size:.7em;vertical-align:.5em;line-height:0">2</span> is the superlattice density of TBG and <i>a</i> = 0.246 nm is the lattice constant</div>
<div class="l">of graphene), as well as superconducting states at both <i>ν</i> = −2 − <i>δ</i> and +2 + <i>δ</i>, where <i>δ</i> is a</div>
<div class="l">small change in filling. The superconducting transition temperature <i>T<sub>c</sub></i> reaches as high as 2.7 K for</div>
</div>
</div>

<!-- PAGE 5 -->
<div class="page p45" style="left:3708px">
<div class="pn">5</div>
<div class="col" style="top:104px">
<div class="l"><i>ν</i> = −2 − <i>δ</i>, as determined from the 50 % normal state resistance (see Extended Data Figure 1).</div>
<div class="l">The outstanding quality of both the MATBG and the MLG probe layers creates an exceptional</div>
<div class="l e">platform to study the underlying physics in MATBG.</div>
<div class="l i">To demonstrate the measurement principle, we first measure the chemical potential and resis-</div>
<div class="l">tivity of MLG with and without a magnetic field. A key advantage of this experimental technique</div>
<div class="l">is that we can simultaneously measure electronic transport in both layers and accurately correlate</div>
<div class="l">the chemical potential to the transport features. Fig. 1e and f show the resistance of MATBG and</div>
<div class="l">MLG as a function of <i>V<sub>tg</sub></i> and <i>V<sub>bg</sub></i> at <i>B</i><sub>⊥</sub> = 0 T and <i>B</i><sub>⊥</sub> = 1 T, respectively. <i>μ</i><sub>MLG</sub> as a function</div>
<div class="l">of <i>n</i><sub>MLG</sub> is obtained by tracking the charge neutrality of MATBG (see inset of Fig. 1e and Sup-</div>
<div class="l">plementary Information for the conversion formulae). From these extracted values, we determine</div>
<div class="l">the Fermi velocity to be <i>v<sub>F</sub></i> = 1.12 × 10<span style="font-size:.7em;vertical-align:.5em;line-height:0">6</span> m s<span style="font-size:.7em;vertical-align:.5em;line-height:0">−1</span> by fitting to <i>μ</i><sub>MLG</sub> = <i>ħv<sub>F</sub></i>√<span style="text-decoration:overline">π|<i>n</i><sub>MLG</sub>|</span>sgn(<i>n</i><sub>MLG</sub>). In</div>
<div class="l">a magnetic field <i>B</i><sub>⊥</sub> = 1 T, the spectrum of MLG is quantized into discrete Landau levels. The</div>
<div class="l">extracted chemical potential in these Landau levels fits well to the Landau level spectrum of MLG,</div>
<div class="l">where the energy of the <i>N</i>-th Landau level is ±<i>v<sub>F</sub></i>√<span style="text-decoration:overline">2<i>eħB</i>|<i>N</i>|</span>. Our technique can thus determine</div>
<div class="l e">the chemical potential of either layer with a sensitivity of ≲ meV.</div>
<div class="l i">The chemical potential of MATBG is shown in Fig. 2a. Hereafter we will simply use <i>n</i> (<i>ν</i>)</div>
<div class="l">and <i>μ</i> to denote <i>n</i><sub>MATBG</sub> (<i>ν</i><sub>MATBG</sub>) and <i>μ</i><sub>MATBG</sub>. We show the data as a function of the MATBG</div>
<div class="l">filling factor <i>ν</i> and <i>V<sub>tg</sub></i>, which is directly proportional to the chemical potential of MATBG <i>μ</i> if one</div>
<div class="l">tracks the charge neutrality point of MLG (shown as the green curve). The resistance data of MLG</div>
<div class="l">(purple) and MATBG (orange) are overlaid for qualitative comparison of features, and the gray</div>
<div class="l">dash lines indicate the integer filling factors <i>ν</i> = 0, ±1, ±2, ±3 of MATBG, which correspond to</div>
<div class="l">filling 0, 1, 2, or 3 electrons (holes) per moiré unit cell, respectively. The rate that <i>μ</i> increases with</div>
<div class="l"><i>n</i> (or <i>ν</i>), known as the inverse electronic compressibility <i>χ</i><span style="font-size:.7em;vertical-align:.5em;line-height:0">−1</span> = <i>dμ</i>/<i>dn</i>, is inversely proportional to</div>
<div class="l">the density of states (DOS) for a non-interacting system. Around the charge neutrality (<i>ν</i> = 0),</div>
<div class="l"><i>μ</i> rises quickly with <i>ν</i>, consistent with a minimal DOS at the Dirac point. However, once we</div>
<div class="l">start filling electrons into the flat band, its rate of increase decreases quickly and <i>μ</i> reaches a local</div>
<div class="l">maximum around <i>ν</i> = 0.6. Surprisingly, it then starts decreasing, exhibiting a negative <i>χ</i><span style="font-size:.7em;vertical-align:.5em;line-height:0">−1</span>,<sup>36</sup></div>
<div class="l">and it gets pinned at a local minimum around the integer filling <i>ν</i> = 1. Having this as a turning</div>
<div class="l">point, <i>μ</i> rises again until it hits the next maximum. This intriguing pinning behaviour repeats</div>
<div class="l">itself at each integer filling factor, including <i>ν</i> = 4 (see Fig. 2a inset). On the hole-doped side</div>
<div class="l">(<i>ν</i> &lt; 0), the pinning behaviour of the chemical potential is opposite and weaker (i.e creates weak</div>
<div class="l">maxima in <i>μ</i>). The total bandwidth estimated from the chemical potential at low temperatures</div>
<div class="l">is around ∼40 meV, where both the electron and hole-doped sides contribute similarly. We also</div>
</div>
</div>

<script>
// Panel c: MLG resistance vs density
const cDensity = [-20, -15, -10, -6, -4, -2, -1, -0.5, -0.25, -0.1, 0, 0.1, 0.25, 0.5, 1, 2, 4, 6, 8];
const cResist  = [0.3, 0.4, 0.6, 0.9, 1.2, 2.0, 3.5, 6.0, 11, 20, 30, 20, 11, 6.0, 3.2, 1.8, 1.0, 0.7, 0.5];
const cXTicks = [-20, -10, 0];
const cYTicks = [0, 10, 20, 30];
// Panel e inset: mu_MLG vs n_MLG at B=0
const eDensity = [-0.55, -0.45, -0.35, -0.25, -0.15, -0.08, -0.04, -0.02, 0, 0.02, 0.04, 0.08, 0.15, 0.25, 0.35, 0.45, 0.52];
const eMu      = [-88, -80, -70, -60, -47, -36, -28, -20, 0, 20, 28, 36, 47, 60, 70, 80, 85];
// Panel f inset: staircase mu_MLG vs n_MLG at B=1T
const fDensity = [-0.55, -0.42, -0.42, -0.3, -0.3, -0.2, -0.2, -0.1, -0.1, -0.03, -0.03, 0.03, 0.03, 0.1, 0.1, 0.2, 0.2, 0.3, 0.3, 0.42, 0.42, 0.5];
const fMu      = [-80, -78, -72, -70, -64, -62, -54, -52, -38, -36, 0, 2, 36, 38, 52, 54, 62, 64, 70, 72, 78, 80];
// Panel f inset: expected Landau level energies (red ticks)
const fLevelN  = [-0.48, -0.36, -0.25, -0.15, 0.15, 0.25, 0.36, 0.46];
const fLevelMu = [-73, -63, -51, -36, 36, 51, 63, 73];

const NS = 'http://www.w3.org/2000/svg';
function mk(tag, attrs, parent) {
  const el = document.createElementNS(NS, tag);
  for (const k in attrs) el.setAttribute(k, attrs[k]);
  parent.appendChild(el);
  return el;
}
const cx = n => 362.5 + n * 9.1;
const cy = r => 535 - r * 6.2;
const ex = n => 258 + n * 127.5;
const ey = m => 738 - m * 0.385;
const fx = n => 583 + n * 118.75;
const fy = m => 738 - m * 0.385;

const gC = document.getElementById('panelC');
cXTicks.forEach(t => {
  const tk = mk('line', {x1: cx(t), y1: 535, x2: cx(t), y2: 531, stroke: '#000'}, gC);
  
  
  const lb = mk('text', {x: cx(t) - (t < 0 ? 9 : 3), y: 552, 'font-size': 11}, gC);
  lb.textContent = t;
  
  
});
cYTicks.forEach(t => {
  const tk = mk('line', {x1: 180, y1: cy(t), x2: 184, y2: cy(t), stroke: '#000'}, gC);
  
  
  const lb = mk('text', {x: t < 10 ? 168 : 162, y: cy(t) + 4, 'font-size': 11}, gC);
  lb.textContent = t;
  
  
});
const cLine = mk('polyline', {points: cDensity.map((n, i) => cx(n) + ',' + cy(cResist[i])).join(' '), fill: 'none', stroke: '#1f4e8a', 'stroke-width': 1.4}, gC);


cDensity.forEach((n, i) => {
  const p = mk('circle', {cx: cx(n), cy: cy(cResist[i]), r: 1.2, fill: '#1f4e8a'}, gC);
  
  
});

const gE = document.getElementById('panelE');
const eLine = mk('polyline', {points: eDensity.map((n, i) => ex(n) + ',' + ey(eMu[i])).join(' '), fill: 'none', stroke: '#2a6a9a', 'stroke-width': 3}, gE);


const eFit = mk('polyline', {points: eDensity.map((n, i) => ex(n) + ',' + ey(eMu[i])).join(' '), fill: 'none', stroke: '#fff', 'stroke-width': 0.8}, gE);



const gF = document.getElementById('panelF');
const fLine = mk('polyline', {points: fDensity.map((n, i) => fx(n) + ',' + fy(fMu[i])).join(' '), fill: 'none', stroke: '#1e5ab4', 'stroke-width': 3}, gF);


fLevelN.forEach((n, i) => {
  const t = mk('line', {x1: fx(n) - 5, y1: fy(fLevelMu[i]), x2: fx(n) + 5, y2: fy(fLevelMu[i]), stroke: '#e02020', 'stroke-width': 1.2}, gF);
  
  
});
</script>
</body></html>
